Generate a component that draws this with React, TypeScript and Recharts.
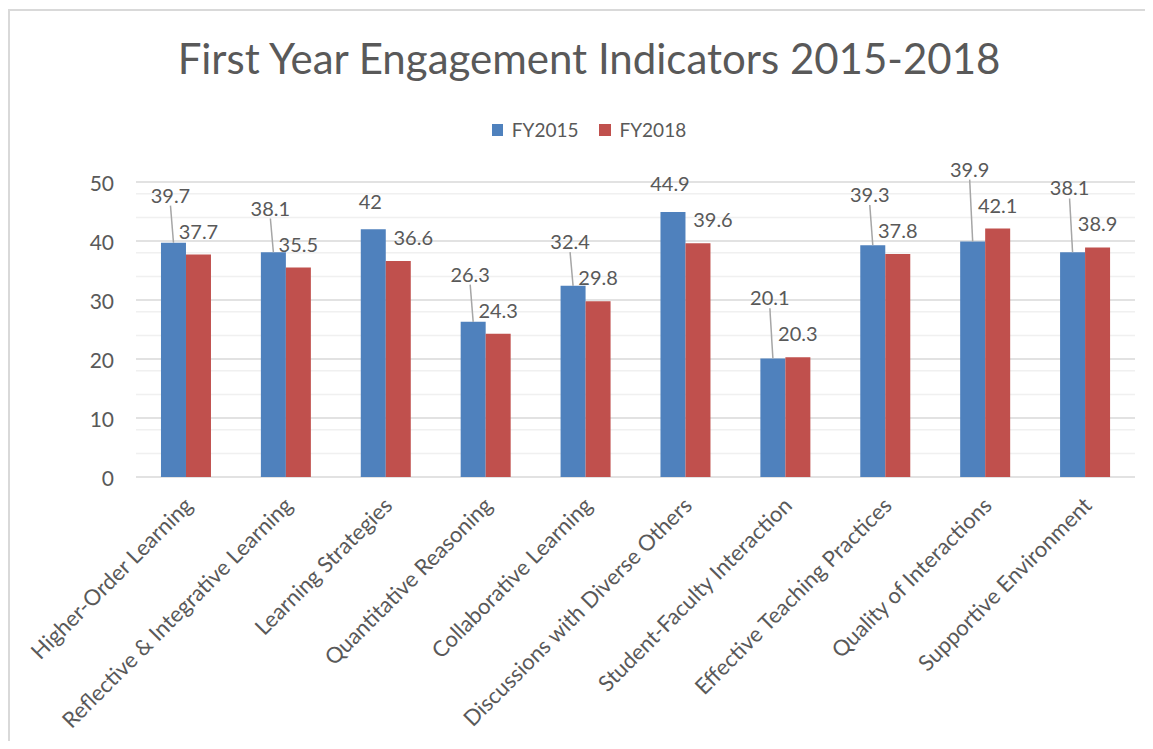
import React from 'react';
import { BarChart, Bar, XAxis, YAxis, CartesianGrid, LabelList } from 'recharts';

const categories = [
  'Higher-Order Learning',
  'Reflective & Integrative Learning',
  'Learning Strategies',
  'Quantitative Reasoning',
  'Collaborative Learning',
  'Discussions with Diverse Others',
  'Student-Faculty Interaction',
  'Effective Teaching Practices',
  'Quality of Interactions',
  'Supportive Environment',
];
const fy2015 = [39.7, 38.1, 42, 26.3, 32.4, 44.9, 20.1, 39.3, 39.9, 38.1];
const fy2018 = [37.7, 35.5, 36.6, 24.3, 29.8, 39.6, 20.3, 37.8, 42.1, 38.9];
const yTicks = [0, 10, 20, 30, 40, 50];
const minorTicks = [2, 4, 6, 8, 12, 14, 16, 18, 22, 24, 26, 28, 32, 34, 36, 38, 42, 44, 46, 48];

const BLUE = '#4f81bd';
const RED = '#c0504d';
const TEXT = '#595959';
const FONT = 'Lato, "Open Sans", sans-serif';

const data = categories.map((name, i) => ({ name, fy2015: fy2015[i], fy2018: fy2018[i] }));

const XTick = ({ x, y, payload }: any) => {
  const ax = Number(x) + 8;
  const ay = Number(y) + 30;
  return (
    <text x={ax} y={ay} transform={`rotate(-45 ${ax} ${ay})`} textAnchor="end" fontSize={22} fill={TEXT} fontFamily={FONT}>
      {payload.value}
    </text>
  );
};

const YTick = ({ x, y, payload }: any) => (
  <text x={x} y={y} textAnchor="end" dominantBaseline="central" fontSize={21} fill={TEXT} fontFamily={FONT}>
    {payload.value}
  </text>
);

// FY2015 labels sit above the FY2018 label, with a leader line when pushed up
const BlueLabel = (props: any) => {
  const x = Number(props.x), y = Number(props.y), width = Number(props.width), height = Number(props.height);
  const { value, index } = props;
  const k = height / value;
  const redTop = y + height - fy2018[index] * k;
  const redLabelY = redTop - 24;
  const cx = x + width / 2;
  const ly = Math.min(y - 24, redLabelY - 36);
  const lead = y - ly > 34;
  return (
    <g>
      {lead && <line x1={cx - 3} y1={ly + 11} x2={cx} y2={y} stroke="#a6a6a6" strokeWidth={1.5} />}
      <text x={cx - 3} y={ly} textAnchor="middle" dominantBaseline="central" fontSize={20} fill={TEXT} fontFamily={FONT}>
        {value}
      </text>
    </g>
  );
};

// FY2018 labels move right when they would run into the taller FY2015 bar
const RedLabel = (props: any) => {
  const x = Number(props.x), y = Number(props.y), width = Number(props.width), height = Number(props.height);
  const { value, index } = props;
  const k = height / value;
  const blueTop = y + height - fy2015[index] * k;
  const ly = y - 24;
  const shift = ly + 8 > blueTop ? 15 : 0;
  return (
    <text x={x + width / 2 + shift} y={ly} textAnchor="middle" dominantBaseline="central" fontSize={20} fill={TEXT} fontFamily={FONT}>
      {value}
    </text>
  );
};

export default function App() {
  return (
    <div
      style={{
        position: 'relative',
        width: 1137,
        height: 733,
        overflow: 'hidden',
        fontFamily: FONT,
      }}
    >
      <div style={{ position: 'absolute', top: 1, left: 0, width: 1300, height: 2, background: '#d9d9d9' }} />
      <div style={{ position: 'absolute', top: 1, left: 0, width: 2, height: 900, background: '#d9d9d9' }} />
      <div
        style={{
          position: 'absolute',
          top: 29,
          left: 0,
          width: 1162,
          textAlign: 'center',
          fontSize: 42,
          lineHeight: '42px',
          color: TEXT,
          whiteSpace: 'nowrap',
        }}
      >
        First Year Engagement Indicators 2015-2018
      </div>
      <div
        style={{
          position: 'absolute',
          top: 112,
          left: 0,
          width: 1162,
          display: 'flex',
          justifyContent: 'center',
          alignItems: 'center',
          fontSize: 19,
          lineHeight: '19px',
          color: TEXT,
        }}
      >
        <span style={{ display: 'inline-block', width: 11, height: 12, background: BLUE, marginRight: 9 }} />
        <span style={{ marginRight: 20 }}>FY2015</span>
        <span style={{ display: 'inline-block', width: 12, height: 12, background: RED, marginRight: 9 }} />
        <span>FY2018</span>
      </div>
      <div style={{ position: 'absolute', top: 0, left: 0 }}>
        <BarChart
          width={1137}
          height={733}
          data={data}
          margin={{ top: 174, right: 10, bottom: 10, left: 0 }}
          barCategoryGap="25%"
          barGap={0}
        >
          <CartesianGrid vertical={false} horizontalValues={minorTicks} stroke="#f0f0f0" strokeWidth={1.5} />
          <CartesianGrid vertical={false} horizontalValues={yTicks} stroke="#d9d9d9" strokeWidth={1.5} />
          <XAxis
            dataKey="name"
            interval={0}
            height={254}
            axisLine={false}
            tickLine={false}
            tickSize={0}
            tickMargin={0}
            tick={<XTick />}
          />
          <YAxis
            domain={[0, 50]}
            ticks={yTicks}
            width={128}
            axisLine={false}
            tickLine={false}
            tickSize={0}
            tickMargin={22}
            tick={<YTick />}
          />
          <Bar dataKey="fy2015" name="FY2015" fill={BLUE} isAnimationActive={false}>
            <LabelList dataKey="fy2015" content={<BlueLabel />} />
          </Bar>
          <Bar dataKey="fy2018" name="FY2018" fill={RED} isAnimationActive={false}>
            <LabelList dataKey="fy2018" content={<RedLabel />} />
          </Bar>
        </BarChart>
      </div>
    </div>
  );
}
